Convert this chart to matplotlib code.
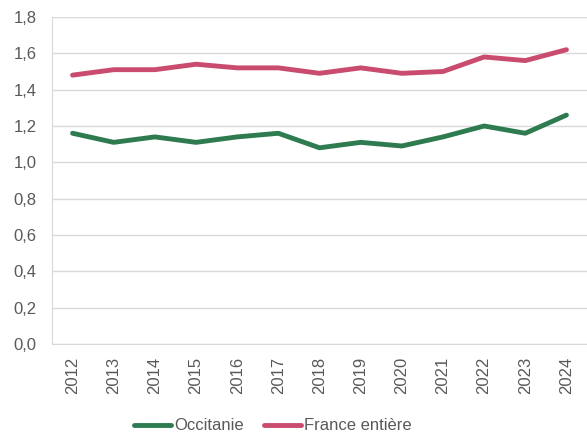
import matplotlib
matplotlib.use('Agg')
import matplotlib.pyplot as plt
from matplotlib.ticker import FuncFormatter

plt.rcParams['font.family'] = ['Liberation Sans', 'DejaVu Sans']

# Données
annees = ['2012', '2013', '2014', '2015', '2016', '2017', '2018',
          '2019', '2020', '2021', '2022', '2023', '2024']
occitanie = [1.16, 1.11, 1.14, 1.11, 1.14, 1.16, 1.08, 1.11, 1.09, 1.14, 1.20, 1.16, 1.26]
france = [1.48, 1.51, 1.51, 1.54, 1.52, 1.52, 1.49, 1.52, 1.49, 1.50, 1.58, 1.56, 1.62]

vert = '#2E7B50'
rose = '#C94B6D'
gris_texte = '#595959'
gris_grille = '#D9D9D9'

fig = plt.figure(figsize=(5.87, 4.38), dpi=100)
ax = fig.add_axes([52 / 587, 1 - 344 / 438, 535 / 587, 327 / 438])

x = list(range(len(annees)))
ax.plot(x, occitanie, color=vert, lw=3.5, label='Occitanie', solid_capstyle='round')
ax.plot(x, france, color=rose, lw=3.5, label='France entière', solid_capstyle='round')

ax.set_xlim(-0.5, len(annees) - 0.5)
ax.set_ylim(0, 1.8)
ax.set_yticks([i * 0.2 for i in range(10)])
ax.yaxis.set_major_formatter(FuncFormatter(lambda v, p: f'{v:.1f}'.replace('.', ',')))
ax.set_xticks(x)
ax.set_xticklabels(annees, rotation=90)

ax.grid(axis='y', color=gris_grille, lw=1)
ax.set_axisbelow(True)
for s in ['top', 'right']:
    ax.spines[s].set_visible(False)
ax.spines['left'].set_color(gris_grille)
ax.spines['bottom'].set_color(gris_grille)
ax.tick_params(length=0, colors=gris_texte, labelsize=12)
ax.tick_params(axis='x', pad=9)
ax.tick_params(axis='y', pad=11)

# Légende en bas
fig.legend(loc='center', bbox_to_anchor=(273 / 587, 1 - 426 / 438), ncol=2, frameon=False,
           fontsize=12, labelcolor=gris_texte, handlelength=2.2, handletextpad=0.2,
           columnspacing=1.2)

fig.savefig('out.png', dpi=100)
